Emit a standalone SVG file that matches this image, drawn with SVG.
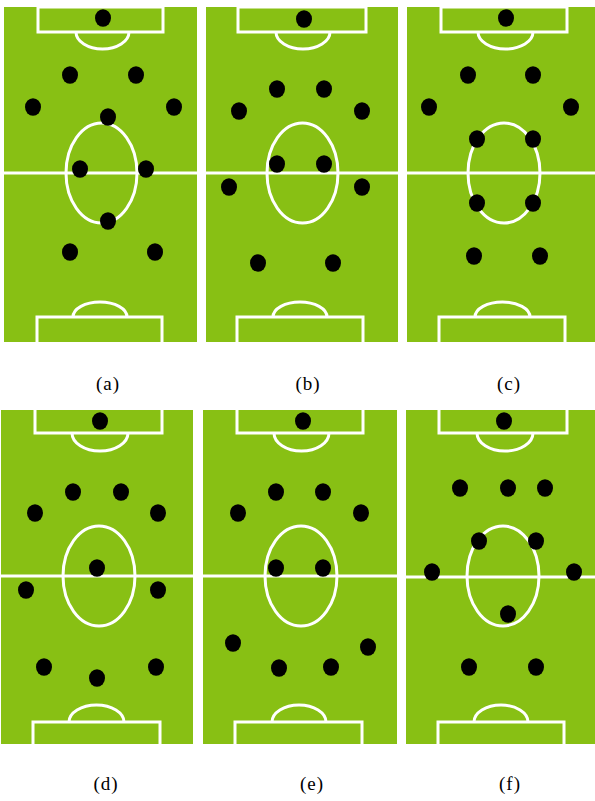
<svg xmlns="http://www.w3.org/2000/svg" width="595" height="801" viewBox="0 0 595 801">
<style>
.field{fill:#88c014}
.ln{fill:none;stroke:#fff;stroke-width:3}
.p{fill:#000}
.lbl{font-family:"Liberation Serif","Times New Roman",serif;font-size:19px;letter-spacing:1px;fill:#000;text-anchor:middle}
</style>
<rect width="595" height="801" fill="#fff"/>
<g id="panel-a">
<rect class="field" x="4" y="7" width="193" height="335"/>
<line class="ln" x1="4" y1="173" x2="197" y2="173"/>
<rect class="ln" x="38" y="7" width="125" height="25"/>
<path class="ln" d="M76 32 A26.5 17 0 0 0 129 32"/>
<ellipse class="ln" cx="101.5" cy="173" rx="35.5" ry="50"/>
<rect class="ln" x="37" y="317" width="125" height="30"/>
<path class="ln" d="M73 317 A27 15 0 0 1 127 317"/>
<ellipse class="p" cx="103" cy="18" rx="8" ry="8.7"/>
<ellipse class="p" cx="70" cy="75" rx="8" ry="8.7"/>
<ellipse class="p" cx="136" cy="75" rx="8" ry="8.7"/>
<ellipse class="p" cx="33" cy="107" rx="8" ry="8.7"/>
<ellipse class="p" cx="174" cy="107" rx="8" ry="8.7"/>
<ellipse class="p" cx="108" cy="117" rx="8" ry="8.7"/>
<ellipse class="p" cx="80" cy="169" rx="8" ry="8.7"/>
<ellipse class="p" cx="146" cy="169" rx="8" ry="8.7"/>
<ellipse class="p" cx="108" cy="221" rx="8" ry="8.7"/>
<ellipse class="p" cx="70" cy="252" rx="8" ry="8.7"/>
<ellipse class="p" cx="155" cy="252" rx="8" ry="8.7"/>
<text class="lbl" x="108" y="390">(a)</text>
</g>
<g id="panel-b">
<rect class="field" x="206" y="7" width="192" height="335"/>
<line class="ln" x1="206" y1="173" x2="398" y2="173"/>
<rect class="ln" x="238" y="7" width="128" height="25"/>
<path class="ln" d="M276 32 A27 17 0 0 0 330 32"/>
<ellipse class="ln" cx="302.5" cy="173" rx="35.5" ry="50"/>
<rect class="ln" x="237" y="317" width="126" height="30"/>
<path class="ln" d="M273 317 A27 15 0 0 1 327 317"/>
<ellipse class="p" cx="304" cy="19" rx="8" ry="8.7"/>
<ellipse class="p" cx="277" cy="89" rx="8" ry="8.7"/>
<ellipse class="p" cx="324" cy="89" rx="8" ry="8.7"/>
<ellipse class="p" cx="239" cy="111" rx="8" ry="8.7"/>
<ellipse class="p" cx="362" cy="111" rx="8" ry="8.7"/>
<ellipse class="p" cx="277" cy="164" rx="8" ry="8.7"/>
<ellipse class="p" cx="324" cy="164" rx="8" ry="8.7"/>
<ellipse class="p" cx="229" cy="187" rx="8" ry="8.7"/>
<ellipse class="p" cx="362" cy="187" rx="8" ry="8.7"/>
<ellipse class="p" cx="258" cy="263" rx="8" ry="8.7"/>
<ellipse class="p" cx="333" cy="263" rx="8" ry="8.7"/>
<text class="lbl" x="308" y="390">(b)</text>
</g>
<g id="panel-c">
<rect class="field" x="407" y="7" width="188" height="335"/>
<line class="ln" x1="407" y1="173" x2="595" y2="173"/>
<rect class="ln" x="441" y="7" width="126" height="25"/>
<path class="ln" d="M478 32 A27.5 17 0 0 0 533 32"/>
<ellipse class="ln" cx="504" cy="173" rx="36" ry="50"/>
<rect class="ln" x="439" y="317" width="126" height="30"/>
<path class="ln" d="M475 317 A27.5 15 0 0 1 530 317"/>
<ellipse class="p" cx="506" cy="18" rx="8" ry="8.7"/>
<ellipse class="p" cx="468" cy="75" rx="8" ry="8.7"/>
<ellipse class="p" cx="533" cy="75" rx="8" ry="8.7"/>
<ellipse class="p" cx="429" cy="107" rx="8" ry="8.7"/>
<ellipse class="p" cx="571" cy="107" rx="8" ry="8.7"/>
<ellipse class="p" cx="477" cy="139" rx="8" ry="8.7"/>
<ellipse class="p" cx="533" cy="139" rx="8" ry="8.7"/>
<ellipse class="p" cx="477" cy="203" rx="8" ry="8.7"/>
<ellipse class="p" cx="533" cy="203" rx="8" ry="8.7"/>
<ellipse class="p" cx="474" cy="256" rx="8" ry="8.7"/>
<ellipse class="p" cx="540" cy="256" rx="8" ry="8.7"/>
<text class="lbl" x="509" y="390">(c)</text>
</g>
<g id="panel-d">
<rect class="field" x="1" y="410" width="192" height="334"/>
<line class="ln" x1="1" y1="576" x2="193" y2="576"/>
<rect class="ln" x="35" y="408" width="127" height="25"/>
<path class="ln" d="M72 433 A28 18 0 0 0 128 433"/>
<ellipse class="ln" cx="99" cy="576" rx="36" ry="50"/>
<rect class="ln" x="33" y="722" width="127" height="30"/>
<path class="ln" d="M69 722 A27.5 17 0 0 1 124 722"/>
<ellipse class="p" cx="100" cy="421" rx="8" ry="8.7"/>
<ellipse class="p" cx="73" cy="492" rx="8" ry="8.7"/>
<ellipse class="p" cx="121" cy="492" rx="8" ry="8.7"/>
<ellipse class="p" cx="35" cy="513" rx="8" ry="8.7"/>
<ellipse class="p" cx="158" cy="513" rx="8" ry="8.7"/>
<ellipse class="p" cx="97" cy="568" rx="8" ry="8.7"/>
<ellipse class="p" cx="26" cy="590" rx="8" ry="8.7"/>
<ellipse class="p" cx="158" cy="590" rx="8" ry="8.7"/>
<ellipse class="p" cx="44" cy="667" rx="8" ry="8.7"/>
<ellipse class="p" cx="156" cy="667" rx="8" ry="8.7"/>
<ellipse class="p" cx="97" cy="678" rx="8" ry="8.7"/>
<text class="lbl" x="106" y="790">(d)</text>
</g>
<g id="panel-e">
<rect class="field" x="203" y="410" width="194" height="334"/>
<line class="ln" x1="203" y1="576" x2="397" y2="576"/>
<rect class="ln" x="237" y="408" width="126" height="25"/>
<path class="ln" d="M274 433 A27.5 18 0 0 0 329 433"/>
<ellipse class="ln" cx="301" cy="576" rx="36" ry="50"/>
<rect class="ln" x="235" y="722" width="127" height="30"/>
<path class="ln" d="M272 722 A27 17 0 0 1 326 722"/>
<ellipse class="p" cx="303" cy="421" rx="8" ry="8.7"/>
<ellipse class="p" cx="276" cy="492" rx="8" ry="8.7"/>
<ellipse class="p" cx="323" cy="492" rx="8" ry="8.7"/>
<ellipse class="p" cx="238" cy="513" rx="8" ry="8.7"/>
<ellipse class="p" cx="361" cy="513" rx="8" ry="8.7"/>
<ellipse class="p" cx="276" cy="568" rx="8" ry="8.7"/>
<ellipse class="p" cx="323" cy="568" rx="8" ry="8.7"/>
<ellipse class="p" cx="233" cy="643" rx="8" ry="8.7"/>
<ellipse class="p" cx="368" cy="647" rx="8" ry="8.7"/>
<ellipse class="p" cx="279" cy="668" rx="8" ry="8.7"/>
<ellipse class="p" cx="331" cy="667" rx="8" ry="8.7"/>
<text class="lbl" x="312" y="790">(e)</text>
</g>
<g id="panel-f">
<rect class="field" x="406" y="410" width="189" height="334"/>
<line class="ln" x1="406" y1="577" x2="595" y2="577"/>
<rect class="ln" x="439" y="408" width="128" height="25"/>
<path class="ln" d="M477 433 A28 18 0 0 0 533 433"/>
<ellipse class="ln" cx="503" cy="576" rx="36" ry="50"/>
<rect class="ln" x="438" y="722" width="126" height="30"/>
<path class="ln" d="M474 722 A27 17 0 0 1 528 722"/>
<ellipse class="p" cx="504" cy="421" rx="8" ry="8.7"/>
<ellipse class="p" cx="460" cy="488" rx="8" ry="8.7"/>
<ellipse class="p" cx="508" cy="488" rx="8" ry="8.7"/>
<ellipse class="p" cx="545" cy="488" rx="8" ry="8.7"/>
<ellipse class="p" cx="479" cy="541" rx="8" ry="8.7"/>
<ellipse class="p" cx="536" cy="541" rx="8" ry="8.7"/>
<ellipse class="p" cx="432" cy="572" rx="8" ry="8.7"/>
<ellipse class="p" cx="574" cy="572" rx="8" ry="8.7"/>
<ellipse class="p" cx="508" cy="614" rx="8" ry="8.7"/>
<ellipse class="p" cx="469" cy="667" rx="8" ry="8.7"/>
<ellipse class="p" cx="536" cy="667" rx="8" ry="8.7"/>
<text class="lbl" x="510" y="790">(f)</text>
</g>
</svg>
